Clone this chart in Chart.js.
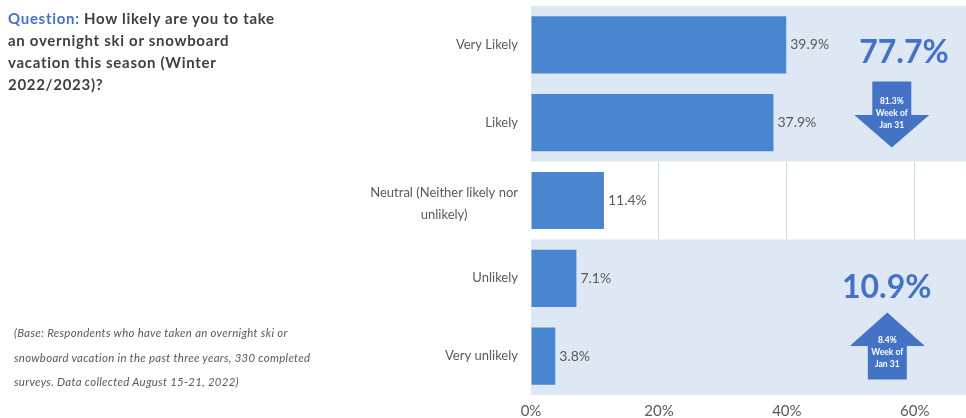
<!DOCTYPE html>
<html>
<head>
<meta charset="utf-8">
<script src="https://cdn.jsdelivr.net/npm/chart.js@4.4.1/dist/chart.umd.min.js"></script>
<style>
  body { margin: 0; background: #fff; font-family: Lato, sans-serif; }
  #wrap { position: relative; width: 966px; height: 418px; }
  #myChart { position: absolute; left: 0; top: 0; }
  .question { position: absolute; left: 8px; top: 7px; width: 330px; font-size: 15px; font-weight: bold; line-height: 22px; color: #404040; letter-spacing: 0.7px; white-space: nowrap; }
  .question span { color: #4472c4; }
  .base { position: absolute; left: 14px; top: 321px; width: 340px; font-size: 11.4px; font-style: italic; line-height: 24.5px; color: #595959; letter-spacing: 0.3px; white-space: nowrap; }
</style>
</head>
<body>
<div id="wrap">
  <canvas id="myChart" width="966" height="418"></canvas>
  <div class="question"><span>Question:</span> How likely are you to take<br>an overnight ski or snowboard<br>vacation this season (Winter<br>2022/2023)?</div>
  <div class="base">(Base: Respondents who have taken an overnight ski or<br>snowboard vacation in the past three years, 330 completed<br>surveys. Data collected August 15-21, 2022)</div>
</div>
<script>
const categories = ['Very Likely', 'Likely', ['Neutral (Neither likely nor', 'unlikely)'], 'Unlikely', 'Very unlikely'];
const shares = [39.9, 37.9, 11.4, 7.1, 3.8];
const xTicks = [0, 20, 40, 60];

// totaux affiches a droite
const likelyTotal = '77.7%';
const likelyPrev = ['81.3%', 'Week of', 'Jan 31'];
const unlikelyTotal = '10.9%';
const unlikelyPrev = ['8.4%', 'Week of', 'Jan 31'];

const blue = '#4a86cf';
const darkBlue = '#4472c4';
const band = '#dee8f4';

// bandes de fond + etiquettes de l'axe y
const backdrop = {
  id: 'backdrop',
  beforeDatasetsDraw(chart) {
    const { ctx, chartArea, scales: { y } } = chart;
    ctx.save();
    ctx.fillStyle = band;
    const top1 = y.getPixelForValue(-0.5), bot1 = y.getPixelForValue(1.5);
    const top2 = y.getPixelForValue(2.5), bot2 = y.getPixelForValue(4.5);
    ctx.fillRect(chartArea.left, top1, chartArea.right - chartArea.left, bot1 - top1);
    ctx.fillRect(chartArea.left, top2, chartArea.right - chartArea.left, bot2 - top2);
    ctx.restore();
  },
  afterDraw(chart) {
    const { ctx, scales: { x, y } } = chart;
    ctx.save();
    // etiquettes categorie
    ctx.font = '13px Lato';
    ctx.fillStyle = '#595959';
    ctx.textBaseline = 'middle';
    categories.forEach((label, i) => {
      const lines = Array.isArray(label) ? label : [label];
      const widest = Math.max(...lines.map(l => ctx.measureText(l).width));
      const right = x.left - 13;
      const cy = y.getPixelForValue(i) + (lines.length > 1 ? 3 : 0);
      ctx.textAlign = 'center';
      lines.forEach((l, k) => {
        ctx.fillText(l, right - widest / 2, cy + (k - (lines.length - 1) / 2) * 22);
      });
    });
    // valeurs des barres
    const meta = chart.getDatasetMeta(0);
    ctx.font = '14px Lato';
    ctx.textAlign = 'left';
    meta.data.forEach((bar, i) => {
      ctx.fillText(shares[i].toFixed(1) + '%', bar.x + 4, bar.y);
    });
    // gros totaux
    ctx.fillStyle = darkBlue;
    ctx.textAlign = 'center';
    ctx.font = 'bold 32px Lato';
    ctx.fillText(likelyTotal, x.getPixelForValue(58.3), y.getPixelForValue(0.1));
    ctx.fillText(unlikelyTotal, x.getPixelForValue(55.6), y.getPixelForValue(3.12));
    // fleche vers le bas
    drawArrow(ctx, x.getPixelForValue(56.4), y.getPixelForValue(0.47), y.getPixelForValue(0.9), y.getPixelForValue(1.32), likelyPrev, -1);
    // fleche vers le haut
    drawArrow(ctx, x.getPixelForValue(55.7), y.getPixelForValue(4.3), y.getPixelForValue(3.87), y.getPixelForValue(3.44), unlikelyPrev, 6);
    ctx.restore();
  }
};

function drawArrow(ctx, cx, start, headStart, tip, lines, shift) {
  const shaft = 19.5, head = 37.5;
  ctx.fillStyle = darkBlue;
  ctx.beginPath();
  ctx.moveTo(cx - shaft, start);
  ctx.lineTo(cx - shaft, headStart);
  ctx.lineTo(cx - head, headStart);
  ctx.lineTo(cx, tip);
  ctx.lineTo(cx + head, headStart);
  ctx.lineTo(cx + shaft, headStart);
  ctx.lineTo(cx + shaft, start);
  ctx.closePath();
  ctx.fill();
  ctx.fillStyle = '#fff';
  ctx.font = 'bold 8.5px Lato';
  ctx.textAlign = 'center';
  const mid = (start + tip) / 2 + shift;
  lines.forEach((l, k) => ctx.fillText(l, cx, mid + (k - 1) * 12));
}

new Chart(document.getElementById('myChart'), {
  type: 'bar',
  data: {
    labels: categories,
    datasets: [{
      data: shares,
      backgroundColor: blue,
      categoryPercentage: 1,
      barPercentage: 0.735
    }]
  },
  options: {
    indexAxis: 'y',
    responsive: false,
    animation: false,
    layout: { padding: { top: 6, right: 0, left: 0, bottom: 0 } },
    plugins: { legend: { display: false }, tooltip: { enabled: false } },
    scales: {
      x: {
        min: 0,
        max: 68,
        afterBuildTicks: scale => { scale.ticks = xTicks.map(v => ({ value: v })); },
        afterFit: scale => { scale.height = 23; },
        grid: {
          drawTicks: false,
          color: c => c.tick && c.tick.value === 0 ? 'rgba(0,0,0,0)' : '#d5dbe3'
        },
        border: { display: false },
        ticks: {
          padding: 7,
          color: '#595959',
          font: { family: 'Lato', size: 15 },
          callback: v => v + '%'
        }
      },
      y: {
        afterFit: scale => { scale.width = 531; },
        grid: { display: false },
        border: { display: false },
        ticks: { display: false }
      }
    }
  },
  plugins: [backdrop]
});
</script>
</body>
</html>
